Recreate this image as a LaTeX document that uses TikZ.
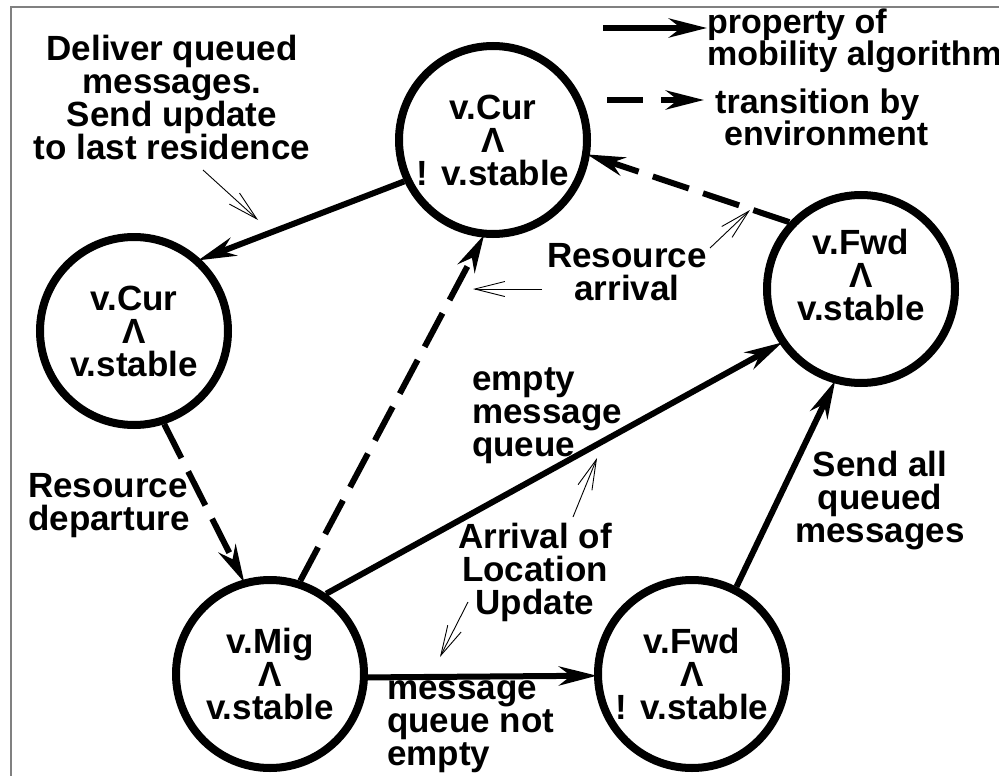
\documentclass[tikz,border=0pt]{standalone}
\usepackage{fontspec}
\setmainfont{Liberation Sans}
\usetikzlibrary{arrows.meta}
\begin{document}
\begin{tikzpicture}[x=1pt,y=-1pt,
  every node/.style={font=\fontsize{35}{33}\selectfont\bfseries},
  stnode/.style={circle,draw,line width=8pt,minimum size=188pt,inner sep=0pt,align=center},
  lbl/.style={inner sep=0pt,align=center},
  lbll/.style={inner sep=0pt,align=left},
  legtext/.style={lbll,font=\fontsize{34}{32}\selectfont\bfseries},
  head/.style={-{Stealth[length=38pt,width=19pt,inset=12pt]}},
  solidedge/.style={head,line width=6pt,shorten >=-3pt},
  dashedge/.style={head,line width=6pt,dash pattern=on 38pt off 15pt,shorten >=-3pt},
  pointer/.style={line width=0.9pt,-{Straight Barb[length=30pt,width=15pt]}}]
\useasboundingbox (0,0) rectangle (999,776);
% frame
\draw[line width=2pt,gray] (11,776) -- (11,7) -- (999,7);

% states
\node[stnode] (tc) at (493,140) {v.Cur\\Λ\\! v.stable};
\node[stnode] (lc) at (134,331) {v.Cur\\Λ\\v.stable};
\node[stnode,label={[lbl,yshift=14pt]center:{v.Fwd\\Λ\\v.stable}}] (rc) at (861,289) {};
\node[stnode] (bl) at (270,674) {v.Mig\\Λ\\v.stable};
\node[stnode] (br) at (692,674) {v.Fwd\\Λ\\! v.stable};

% transitions
\draw[solidedge] (tc.205) -- (lc.47);
\draw[dashedge] (rc.137) -- (tc.351);
\draw[dashedge] (lc.288) -- (bl.106);
\draw[dashedge] (bl.72) -- (tc.264);
\draw[solidedge] (bl.55) -- (rc.214);
\draw[solidedge] (bl.358) -- (br.181);
\draw[solidedge] (br.63) -- (rc.254);

% legend
\coordinate (l1a) at (603,28);
\coordinate (l1b) at (707,28);
\coordinate (l2a) at (607,100);
\coordinate (l2b) at (704,100);
\draw[head,line width=6pt] (l1a) -- (l1b);
\draw[head,line width=6pt,dash pattern=on 36pt off 18pt] (l2a) -- (l2b);
\node[legtext,anchor=west] (leg1) at (707,41) {property of\\mobility algorithm};
\node[legtext,anchor=west] (leg2) at (715,117) {transition by\\\hspace*{9pt}environment};

% labels
\node[lbl] (tA) at (172,97) {Deliver queued\\messages.\\Send update\\to last residence};
\node[lbl] (tB) at (627,272) {Resource\\arrival};
\node[lbll,anchor=west] (tC) at (472,416) {empty\\message\\queue};
\node[lbl] (tD) at (535,572) {Arrival of\\Location\\Update};
\node[lbll,anchor=west] (tE) at (387,727) {message\\queue not\\empty};
\node[lbll,anchor=west] (tF) at (28,506) {Resource\\departure};
\node[lbl] (tG) at (880,501) {Send all\\queued\\messages};

% thin pointers from labels to transitions
\coordinate (p1a) at (203,170); \coordinate (p1b) at (258,220);
\coordinate (p2a) at (710,248); \coordinate (p2b) at (750,210);
\coordinate (p3a) at (542,289); \coordinate (p3b) at (473,289);
\coordinate (p4a) at (573,517); \coordinate (p4b) at (597,458);
\coordinate (p5a) at (468,602); \coordinate (p5b) at (440,657);
\draw[pointer] (p1a) -- (p1b);
\draw[pointer] (p2a) -- (p2b);
\draw[pointer] (p3a) -- (p3b);
\draw[pointer] (p4a) -- (p4b);
\draw[pointer] (p5a) -- (p5b);
\end{tikzpicture}
\end{document}
